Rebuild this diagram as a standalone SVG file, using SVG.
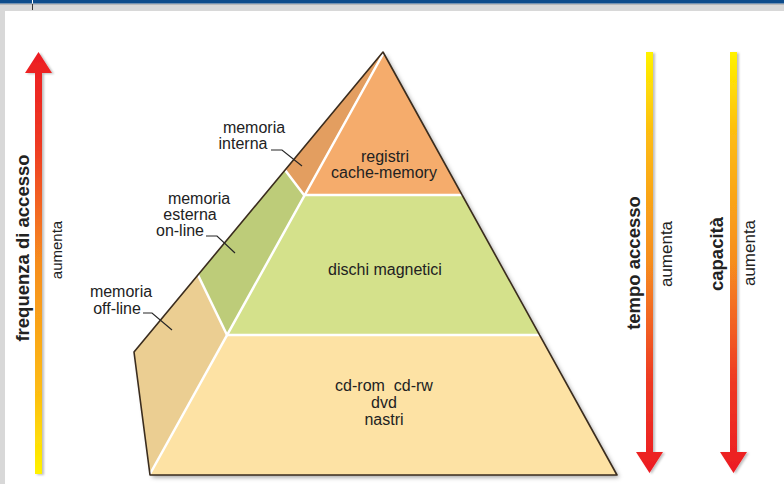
<svg xmlns="http://www.w3.org/2000/svg" width="784" height="484" viewBox="0 0 784 484">
<style>
  .t { font-family: "Liberation Sans", Arial, sans-serif; fill: #222222; }
  .lbl { font-size: 16px; text-anchor: middle; }
  .b { font-weight: bold; font-size: 18.5px; text-anchor: middle; }
  .s { font-size: 17px; text-anchor: middle; }
  .div { stroke: #ffffff; stroke-width: 2.5; fill: none; stroke-linecap: round; }
  .lead { stroke: #262626; stroke-width: 1.2; fill: none; }
</style>
<defs>
  <linearGradient id="gUp" gradientUnits="userSpaceOnUse" x1="0" y1="52" x2="0" y2="474">
    <stop offset="0" stop-color="#EC1C24"/>
    <stop offset="0.22" stop-color="#EE3A24"/>
    <stop offset="0.5" stop-color="#F68D1F"/>
    <stop offset="0.8" stop-color="#FDBB12"/>
    <stop offset="1" stop-color="#FFF200"/>
  </linearGradient>
  <linearGradient id="gDown" gradientUnits="userSpaceOnUse" x1="0" y1="52" x2="0" y2="473">
    <stop offset="0" stop-color="#FFF200"/>
    <stop offset="0.2" stop-color="#FDBB12"/>
    <stop offset="0.5" stop-color="#F68D1F"/>
    <stop offset="0.78" stop-color="#EE3A24"/>
    <stop offset="1" stop-color="#EC1C24"/>
  </linearGradient>
  <filter id="sh" x="-10%" y="-10%" width="130%" height="130%">
    <feDropShadow dx="2.5" dy="2.5" stdDeviation="2" flood-color="#000" flood-opacity="0.35"/>
  </filter>
  <filter id="ash" x="-50%" y="-5%" width="200%" height="110%">
    <feDropShadow dx="2" dy="1" stdDeviation="1.2" flood-color="#000" flood-opacity="0.25"/>
  </filter>
</defs>

<!-- frame -->
<rect x="0" y="0" width="784" height="484" fill="#ffffff"/>
<rect x="0" y="0" width="784" height="11" fill="#D8D8D8"/>
<rect x="0" y="0" width="5" height="484" fill="#D8D8D8"/>
<rect x="0" y="0" width="784" height="3.5" fill="#0E4D8C"/>
<line x1="0" y1="4.5" x2="784" y2="4.5" stroke="#b8b8b8" stroke-width="1"/>
<line x1="32.5" y1="0" x2="32.5" y2="3.5" stroke="#ffffff" stroke-width="1"/>
<line x1="32.5" y1="4" x2="32.5" y2="10" stroke="#333" stroke-width="1"/>

<!-- pyramid -->
<g id="pyramid">
  <path d="M383,52 L617,475 L150,475 L134,352 Z" fill="#FDE2A4" filter="url(#sh)"/>
  <g id="layer-registri">
    <polygon points="383,52 462,195 304,195" fill="#F5AC6C"/>
    <text class="t lbl" x="385" y="162">registri</text>
    <text class="t lbl" x="384" y="178">cache-memory</text>
  </g>
  <g id="layer-dischi">
    <polygon points="304,195 462,195 539.5,335 227,335" fill="#D4E18B"/>
    <text class="t lbl" x="385" y="275">dischi magnetici</text>
  </g>
  <g id="layer-nastri">
    <polygon points="227,335 539.5,335 617,475 150,475" fill="#FDE2A4"/>
    <text class="t lbl" x="384" y="391">cd-rom&#160; cd-rw</text>
    <text class="t lbl" x="384" y="408">dvd</text>
    <text class="t lbl" x="384" y="425">nastri</text>
  </g>
  <g id="side-interna">
    <polygon points="383,52 285,170 304,195" fill="#E39E60"/>
  </g>
  <g id="side-online">
    <polygon points="285,170 198,275 227,335 304,195" fill="#BDCC79"/>
  </g>
  <g id="side-offline">
    <polygon points="198,275 134,352 150,475 227,335" fill="#EBCE92"/>
  </g>
  <g id="dividers">
    <line class="div" x1="383" y1="54" x2="150" y2="474"/>
    <line class="div" x1="304" y1="195" x2="462" y2="195"/>
    <line class="div" x1="227" y1="335" x2="539.5" y2="335"/>
    <line class="div" x1="285" y1="170" x2="304" y2="195"/>
    <line class="div" x1="198" y1="275" x2="227" y2="335"/>
  </g>
  <path d="M383,52 L617,475 L150,475 L134,352 Z" fill="none" stroke="#3a2c1e" stroke-width="1.6" stroke-linejoin="round"/>
</g>

<!-- side labels -->
<g id="label-interna">
  <text class="t lbl" x="254" y="133">memoria</text>
  <text class="t lbl" x="243" y="149">interna</text>
</g>
<g id="label-online">
  <text class="t lbl" x="199" y="204">memoria</text>
  <text class="t lbl" x="190" y="220">esterna</text>
  <text class="t lbl" x="180" y="236">on-line</text>
</g>
<g id="label-offline">
  <text class="t lbl" x="121" y="297">memoria</text>
  <text class="t lbl" x="117" y="314">off-line</text>
</g>

<g id="connectors">
  <polyline class="lead" points="271,150 282,150 302,166"/>
  <polyline class="lead" points="206,236 217,236 235,253"/>
  <polyline class="lead" points="143,313 152,313 172,330"/>
</g>

<!-- arrows -->
<g id="arrow-frequenza">
  <path d="M38.5,52 L52,73 L42,73 L42,474 L35,474 L35,73 L25,73 Z" fill="url(#gUp)" filter="url(#ash)"/>
  <text class="t b" transform="translate(29,248) rotate(-90)">frequenza di accesso</text>
  <text class="t" font-size="15" text-anchor="middle" transform="translate(62,250) rotate(-90)">aumenta</text>
</g>
<g id="arrow-tempo">
  <path d="M646,52 L653,52 L653,452 L663,452 L649.5,473 L636,452 L646,452 Z" fill="url(#gDown)" filter="url(#ash)"/>
  <text class="t b" transform="translate(640,263) rotate(-90)">tempo accesso</text>
  <text class="t s" transform="translate(672,254) rotate(-90)">aumenta</text>
</g>
<g id="arrow-capacita">
  <path d="M730,52 L737,52 L737,452 L747,452 L733.5,473 L720,452 L730,452 Z" fill="url(#gDown)" filter="url(#ash)"/>
  <text class="t b" transform="translate(723,254) rotate(-90)">capacità</text>
  <text class="t s" transform="translate(755,253) rotate(-90)">aumenta</text>
</g>
</svg>
